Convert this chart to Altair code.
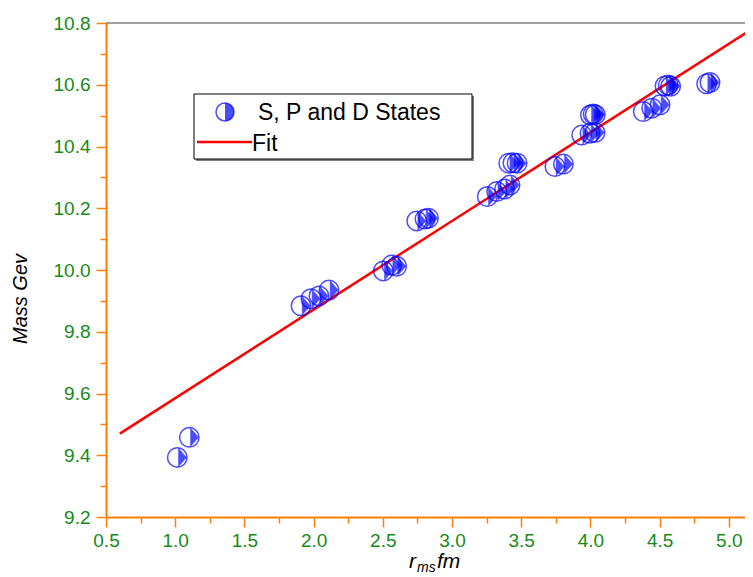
import altair as alt
import pandas as pd

# Data
x_vals = [1.015, 1.102, 1.909, 1.981, 2.039, 2.111, 2.504, 2.564, 2.600,
          2.745, 2.805, 2.830, 3.255, 3.323, 3.380, 3.419, 3.410, 3.440,
          3.470, 3.744, 3.805, 3.937, 3.997, 4.033, 4.000, 4.020, 4.035,
          4.382, 4.443, 4.503, 4.539, 4.563, 4.580, 4.840, 4.864]
y_vals = [9.393, 9.458, 9.884, 9.907, 9.916, 9.935, 9.997, 10.016, 10.012,
          10.159, 10.165, 10.168, 10.238, 10.254, 10.262, 10.275, 10.346, 10.347,
          10.346, 10.335, 10.343, 10.437, 10.443, 10.445, 10.502, 10.505, 10.503,
          10.513, 10.524, 10.535, 10.596, 10.599, 10.595, 10.603, 10.607]
fit_x = [0.6, 5.2]
fit_y = [9.470, 10.790]
x_major = [0.5, 1.0, 1.5, 2.0, 2.5, 3.0, 3.5, 4.0, 4.5, 5.0]
x_minor = [0.75, 1.25, 1.75, 2.25, 2.75, 3.25, 3.75, 4.25, 4.75]
y_major = [9.2, 9.4, 9.6, 9.8, 10.0, 10.2, 10.4, 10.6, 10.8]
y_minor = [9.3, 9.5, 9.7, 9.9, 10.1, 10.3, 10.5, 10.7]
legend_labels = ["S, P and D States", "Fit"]

W, H = 639, 494
ORANGE = "#FF8000"
GREEN = "#178A17"
BLUE = "#0000FF"
FONT = "Liberation Sans"

pts = pd.DataFrame({"x": x_vals, "y": y_vals})
fit = pd.DataFrame({"x": fit_x, "y": fit_y})
one = pd.DataFrame({"a": [0]})

xscale = alt.Scale(domain=[0.5, 5.117], nice=False, zero=False)
yscale = alt.Scale(domain=[9.2, 10.8], nice=False, zero=False)

common = dict(title=None, grid=False, domainColor=ORANGE, tickColor=ORANGE,
              domainWidth=2, tickWidth=1.5, labelColor=GREEN, labelFont=FONT,
              labelFontSize=19, labelFlush=False, labelOverlap=False, labelBound=False)

xaxis = alt.Axis(values=x_major, format=".1f", tickSize=10, labelPadding=4,
                 orient="bottom", **common)
yaxis = alt.Axis(values=y_major, format=".1f", tickSize=10, labelPadding=6,
                 orient="left", **common)
xminor = alt.Axis(values=x_minor, labels=False, domain=False, tickSize=6,
                  orient="bottom", title=None, grid=False, tickColor=ORANGE, tickWidth=1.5)
yminor = alt.Axis(values=y_minor, labels=False, domain=False, tickSize=6,
                  orient="left", title=None, grid=False, tickColor=ORANGE, tickWidth=1.5)

tri_path = "M0.12,-0.95L0.12,0.95L0.95,0Z"
half_path = "M0,-1A1,1 0 0 1 0,1Z"

minor_layer = alt.Chart(pts).mark_point(opacity=0).encode(
    x=alt.X("x:Q", scale=xscale, axis=xminor),
    y=alt.Y("y:Q", scale=yscale, axis=yminor),
)
circles = alt.Chart(pts).mark_point(
    shape="circle", filled=False, size=380, strokeWidth=1.5, color=BLUE
).encode(x=alt.X("x:Q", scale=xscale, axis=xaxis),
         y=alt.Y("y:Q", scale=yscale, axis=yaxis))
tris = alt.Chart(pts).mark_point(
    shape=tri_path, filled=True, size=380, color=BLUE, strokeWidth=0.5, stroke=BLUE
).encode(x=alt.X("x:Q", axis=None), y=alt.Y("y:Q", axis=None))

fit_line = alt.Chart(fit).mark_line(color="#FF0000", strokeWidth=2.5, clip=True).encode(
    x=alt.X("x:Q", axis=None), y=alt.Y("y:Q", axis=None)
)

top_border = alt.Chart(one).mark_rule(color="#808080", strokeWidth=1.5).encode(
    x=alt.value(0), x2=alt.value(W), y=alt.value(0)
)

# Legend box
shadow = alt.Chart(one).mark_rect(fill="#808080").encode(
    x=alt.value(90), x2=alt.value(368), y=alt.value(73), y2=alt.value(138)
)
box = alt.Chart(one).mark_rect(fill="white", stroke="black", strokeWidth=1).encode(
    x=alt.value(88), x2=alt.value(366), y=alt.value(71), y2=alt.value(136)
)
leg_circle = alt.Chart(one).mark_point(
    shape="circle", filled=False, size=324, strokeWidth=1.5, color=BLUE
).encode(x=alt.value(119), y=alt.value(89))
leg_half = alt.Chart(one).mark_point(
    shape=half_path, filled=True, size=324, color=BLUE
).encode(x=alt.value(119), y=alt.value(89))
leg_t1 = alt.Chart(one).mark_text(
    align="left", baseline="alphabetic", font=FONT, fontSize=23, color="black"
).encode(x=alt.value(152), y=alt.value(97), text=alt.value(legend_labels[0]))
leg_line = alt.Chart(one).mark_rule(color="#FF0000", strokeWidth=2.5).encode(
    x=alt.value(91), x2=alt.value(146), y=alt.value(119)
)
leg_t2 = alt.Chart(one).mark_text(
    align="left", baseline="alphabetic", font=FONT, fontSize=23, color="black"
).encode(x=alt.value(146), y=alt.value(128), text=alt.value(legend_labels[1]))

# Axis titles
ytitle = alt.Chart(one).mark_text(
    align="center", baseline="middle", angle=270, font=FONT, fontSize=20,
    fontStyle="italic", color="black"
).encode(x=alt.value(-85), y=alt.value(276), text=alt.value("Mass Gev"))
xt_r = alt.Chart(one).mark_text(
    align="left", baseline="alphabetic", font=FONT, fontSize=21, fontStyle="italic", color="black"
).encode(x=alt.value(303), y=alt.value(545), text=alt.value("r"))
xt_ms = alt.Chart(one).mark_text(
    align="left", baseline="alphabetic", font=FONT, fontSize=14, fontStyle="italic", color="black"
).encode(x=alt.value(311), y=alt.value(549), text=alt.value("ms"))
xt_fm = alt.Chart(one).mark_text(
    align="left", baseline="alphabetic", font=FONT, fontSize=21, fontStyle="italic", color="black"
).encode(x=alt.value(331), y=alt.value(545), text=alt.value("fm"))

chart = alt.layer(
    minor_layer, top_border, fit_line, circles, tris,
    shadow, box, leg_circle, leg_half, leg_t1, leg_line, leg_t2,
    ytitle, xt_r, xt_ms, xt_fm,
).resolve_axis(x="independent", y="independent").properties(
    width=W, height=H,
    autosize=alt.AutoSizeParams(type="none"),
    padding={"left": 98, "top": 15, "right": 0, "bottom": 60},
    background="white",
).configure_view(stroke=None)

chart.save("out.html", embed_options={"renderer": "svg", "actions": False})
